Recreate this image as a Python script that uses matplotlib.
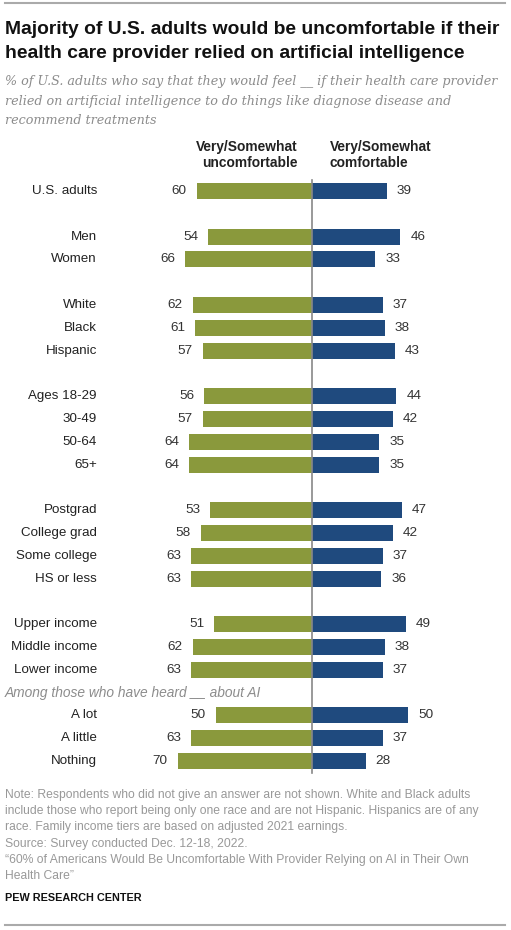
import matplotlib
matplotlib.use("Agg")
import matplotlib.pyplot as plt
from matplotlib.transforms import blended_transform_factory

categories = ["U.S. adults", "", "Men", "Women", "", "White", "Black", "Hispanic", "",
              "Ages 18-29", "30-49", "50-64", "65+", "",
              "Postgrad", "College grad", "Some college", "HS or less", "",
              "Upper income", "Middle income", "Lower income", "",
              "A lot", "A little", "Nothing"]
uncomfortable = [60, None, 54, 66, None, 62, 61, 57, None,
                 56, 57, 64, 64, None,
                 53, 58, 63, 63, None,
                 51, 62, 63, None,
                 50, 63, 70]
comfortable = [39, None, 46, 33, None, 37, 38, 43, None,
               44, 42, 35, 35, None,
               47, 42, 37, 36, None,
               49, 38, 37, None,
               50, 37, 28]

GREEN = "#8a993c"
BLUE = "#1f4a7e"
GRAY_TXT = "#8c8c8c"
FONT = "Liberation Sans"

W, H = 511, 930
fig = plt.figure(figsize=(W / 100, H / 100), dpi=100)
ax = fig.add_axes([0, 0, 1, 1])
ax.set_axis_off()

cx = 312.0
pxu = 1.92
row0 = 191.0
rowh = 22.8
ax.set_xlim(-cx / pxu, (W - cx) / pxu)
ax.set_ylim((H - row0) / rowh, -row0 / rowh)

def fx(px):
    return px / W

def fy(py):
    return 1 - py / H

lab_tr = blended_transform_factory(fig.transFigure, ax.transData)
off = 10 * 72 / 100  # 10 px in points

for i, (c, u, v) in enumerate(zip(categories, uncomfortable, comfortable)):
    if u is None:
        continue
    ax.barh(i, -u, height=0.70, color=GREEN, left=0)
    ax.barh(i, v, height=0.70, color=BLUE, left=0)
    ax.annotate(str(u), (-u, i), xytext=(-off, 0), textcoords="offset points",
                ha="right", va="center", fontsize=9.7, color="#333333", family=FONT)
    ax.annotate(str(v), (v, i), xytext=(off, 0), textcoords="offset points",
                ha="left", va="center", fontsize=9.7, color="#333333", family=FONT)
    ax.text(fx(97), i, c, transform=lab_tr, ha="right", va="center",
            fontsize=9.6, color="#222222", family=FONT)

# section label
ax.text(fx(5), 22, "Among those who have heard __ about AI", transform=lab_tr,
        ha="left", va="center", fontsize=9.9, color=GRAY_TXT, style="italic", family=FONT)

# center line
ax.plot([0, 0], [(180 - row0) / rowh, (773 - row0) / rowh], color="#888888", lw=1.2)

# column headers
HFS = 9.9
fig.text(fx(298), fy(147), "Very/Somewhat", ha="right", va="center", fontsize=HFS,
         weight="bold", family=FONT, color="#222222")
fig.text(fx(298), fy(163), "uncomfortable", ha="right", va="center", fontsize=HFS,
         weight="bold", family=FONT, color="#222222")
fig.text(fx(330), fy(147), "Very/Somewhat", ha="left", va="center", fontsize=HFS,
         weight="bold", family=FONT, color="#222222")
fig.text(fx(330), fy(163), "comfortable", ha="left", va="center", fontsize=HFS,
         weight="bold", family=FONT, color="#222222")

# title
fig.text(fx(5), fy(29), "Majority of U.S. adults would be uncomfortable if their",
         ha="left", va="center", fontsize=13.9, weight="bold", family=FONT, color="#111111")
fig.text(fx(5), fy(54), "health care provider relied on artificial intelligence",
         ha="left", va="center", fontsize=13.9, weight="bold", family=FONT, color="#111111")

sub = ["% of U.S. adults who say that they would feel __ if their health care provider",
       "relied on artificial intelligence to do things like diagnose disease and",
       "recommend treatments"]
for k, s in enumerate(sub):
    fig.text(fx(5), fy(81 + 20 * k), s, ha="left", va="center", fontsize=9.2,
             style="italic", family="DejaVu Serif", color=GRAY_TXT)

notes = ["Note: Respondents who did not give an answer are not shown. White and Black adults",
         "include those who report being only one race and are not Hispanic. Hispanics are of any",
         "race. Family income tiers are based on adjusted 2021 earnings.",
         "Source: Survey conducted Dec. 12-18, 2022.",
         "\u201c60% of Americans Would Be Uncomfortable With Provider Relying on AI in Their Own",
         "Health Care\u201d"]
for k, s in enumerate(notes):
    fig.text(fx(5), fy(795 + 16.2 * k), s, ha="left", va="center", fontsize=8.7,
             family=FONT, color="#999999")

fig.text(fx(5), fy(898), "PEW RESEARCH CENTER", ha="left", va="center", fontsize=7.8,
         weight="bold", family=FONT, color="#111111")

# top and bottom rules
fig.add_artist(plt.Line2D([fx(5), fx(505)], [fy(3), fy(3)], color="#aaaaaa", lw=1.5))
fig.add_artist(plt.Line2D([fx(5), fx(505)], [fy(925), fy(925)], color="#aaaaaa", lw=1.5))

fig.savefig("out.png", dpi=100)
